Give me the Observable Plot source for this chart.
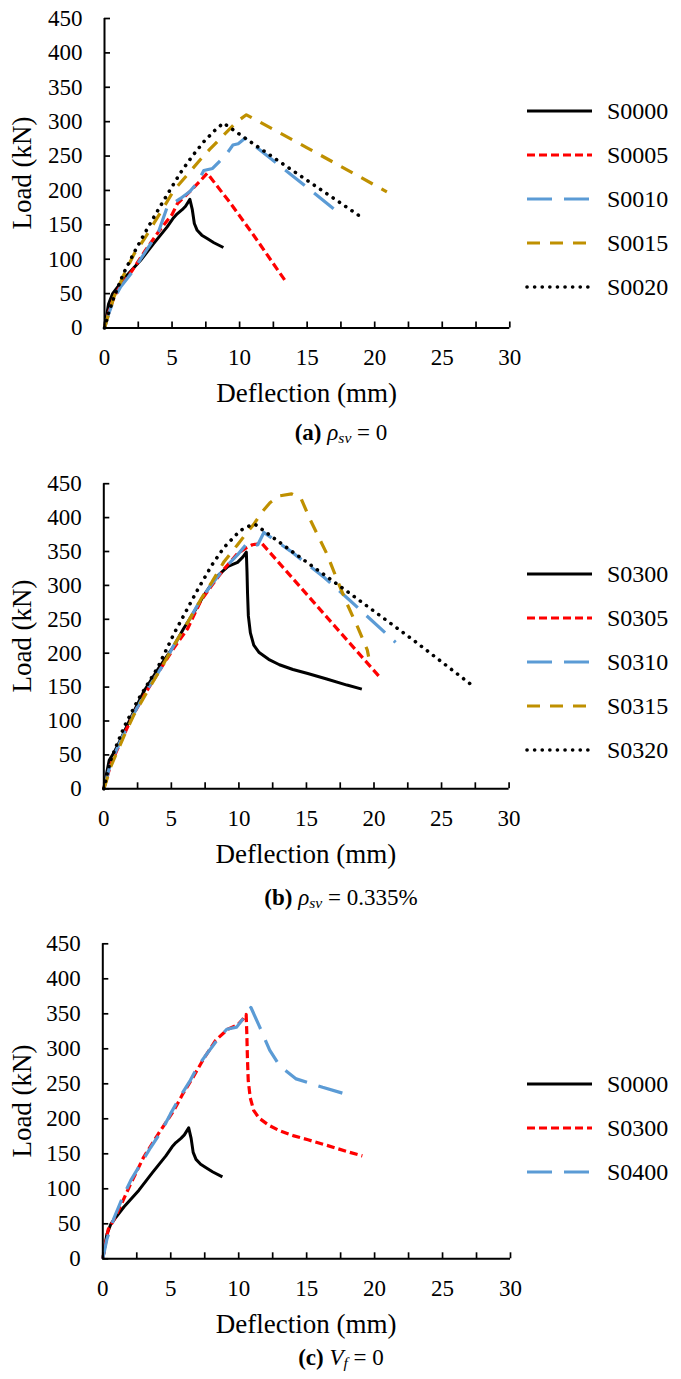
<!DOCTYPE html>
<html><head><meta charset="utf-8">
<script src="https://cdn.jsdelivr.net/npm/d3@7"></script>
<script src="https://cdn.jsdelivr.net/npm/@observablehq/plot@0.6"></script>
<style>
body{margin:0;background:#fff;}
#page{position:relative;width:681px;height:1379px;overflow:hidden;font-family:"Liberation Serif";color:#000;background:#fff;}
.plotbox{position:absolute;left:0;}
.title{position:absolute;font-family:"Liberation Serif";font-size:27px;white-space:nowrap;transform:translate(-50%,-50%);line-height:1;}
.ytitle{transform:translate(-50%,-50%) rotate(-90deg);}
.caption{position:absolute;font-family:"Liberation Serif";font-size:23px;white-space:nowrap;transform:translate(-50%,-50%);line-height:1;}
.caption sub{font-size:0.68em;vertical-align:-0.2em;}
#overlay{position:absolute;left:0;top:0;}
</style></head><body><div id="page"></div>
<script>
// ---- data (deflection in mm, load in kN) ----
const xTickValues = [0, 2.5, 5, 7.5, 10, 12.5, 15, 17.5, 20, 22.5, 25, 27.5, 30];
const xLabelValues = [0, 5, 10, 15, 20, 25, 30];
const yTickValues = [0, 50, 100, 150, 200, 250, 300, 350, 400, 450];

const S0000_x = [0, 0.3, 0.6, 0.95, 1.55, 2.66, 3.65, 4.64, 5.1, 5.38, 5.75, 6.0, 6.32, 6.5, 6.65, 6.86, 7.2, 7.6, 8.1, 8.8];
const S0000_y = [0, 35, 50, 59, 74, 98, 123, 147, 160, 166, 172, 177, 187, 172, 152, 142, 135, 130, 124, 117];

const S0005_x = [0, 0.3, 0.7, 1.2, 2.0, 3.0, 4.0, 5.0, 5.4, 6.4, 7.0, 7.6, 9.3, 11.0, 13.4];
const S0005_y = [0, 22, 45, 62, 82, 112, 140, 165, 181, 200, 212, 225, 182, 136, 68];

const S0010_x = [0, 0.3, 0.7, 1.2, 2.0, 3.0, 4.0, 4.64, 5.6, 6.3, 6.9, 7.35, 8.0, 8.5, 9.0, 9.5, 9.9, 10.4, 12.0, 14.0, 17.3];
const S0010_y = [0, 20, 42, 60, 80, 110, 140, 176, 188, 198, 212, 229, 232, 242, 252, 266, 268, 276, 251, 220, 168];

const S0015_x = [0, 0.3, 0.7, 1.4, 2.2, 2.9, 3.65, 4.4, 5.13, 6.4, 7.1, 7.8, 8.4, 9.2, 9.8, 10.5, 15.0, 20.9];
const S0015_y = [0, 20, 45, 76, 108, 128, 152, 176, 200, 229, 245, 260, 272, 288, 300, 310, 262, 198];

const S0020_x = [0, 0.3, 0.7, 1.4, 2.2, 2.9, 3.65, 4.4, 5.6, 6.5, 7.4, 8.2, 8.8, 11.3, 15.5, 19.1];
const S0020_y = [0, 22, 45, 79, 110, 135, 161, 186, 225, 250, 272, 288, 298, 264, 208, 160];

const S0300_x = [0, 0.2, 0.4, 0.8, 1.3, 2.0, 3.0, 4.1, 5.2, 5.9, 6.6, 7.4, 8.3, 9.2, 9.9, 10.3, 10.55, 10.6, 10.64, 10.7, 10.85, 11.1, 11.5, 12.2, 13.0, 14.0, 15.1, 16.5, 18.0, 19.1];
const S0300_y = [0, 22, 42, 55, 75, 105, 145, 179, 211, 236, 258, 285, 312, 328, 334, 342, 349, 320, 288, 255, 230, 212, 201, 191, 183, 176, 170, 162, 153, 147];

const S0305_x = [0, 0.2, 0.5, 1.0, 1.5, 2.2, 3.2, 4.3, 5.2, 6.2, 7.2, 8.0, 8.9, 9.9, 10.6, 11.0, 11.7, 14.0, 17.0, 20.5];
const S0305_y = [0, 14, 35, 58, 80, 110, 145, 180, 208, 236, 278, 300, 324, 347, 356, 360, 362, 310, 242, 163];

const S0310_x = [0, 0.2, 0.5, 1.0, 1.5, 2.2, 3.2, 4.3, 5.2, 6.2, 7.2, 8.0, 8.9, 9.9, 10.6, 11.1, 11.4, 11.85, 13.8, 16.3, 18.1, 21.6];
const S0310_y = [0, 15, 37, 60, 82, 110, 146, 180, 212, 245, 280, 302, 325, 345, 362, 358, 360, 378, 351, 312, 280, 216];

const S0315_x = [0, 0.2, 0.5, 1.0, 1.5, 2.2, 3.2, 4.3, 5.2, 6.2, 7.2, 8.0, 8.9, 9.9, 10.6, 11.1, 11.7, 12.3, 13.0, 13.9, 14.6, 15.3, 16.5, 17.4, 18.0, 18.8, 19.5, 19.6];
const S0315_y = [0, 12, 32, 55, 78, 108, 143, 180, 212, 245, 280, 305, 335, 360, 378, 390, 408, 422, 432, 435, 428, 396, 347, 302, 273, 238, 205, 195];

const S0320_x = [0, 0.2, 0.5, 1.0, 1.5, 2.5, 4.0, 5.2, 6.9, 8.0, 8.9, 10.1, 10.8, 11.2, 13.8, 18.3, 23.0, 27.3];
const S0320_y = [0, 18, 42, 67, 91, 130, 179, 229, 292, 330, 356, 381, 388, 390, 352, 287, 218, 152];

const S0400_x = [0, 0.3, 0.84, 1.4, 2.06, 2.8, 3.52, 4.3, 4.98, 5.7, 6.44, 7.0, 7.66, 8.4, 9.12, 9.85, 10.4, 10.9, 11.55, 12.28, 13.0, 14.23, 16.17, 17.75];
const S0400_y = [0, 28, 59, 85, 112, 136, 159, 182, 207, 232, 255, 275, 293, 312, 328, 331, 345, 359, 331, 298, 276, 257, 245, 236];

// ---- styles ----
const FONT = "Liberation Serif";
const ST = {
  solid: {stroke: "#000000", dash: null, width: 3, cap: "butt"},
  red:   {stroke: "#FF0000", dash: "8,4", width: 3.2, cap: "butt"},
  blue:  {stroke: "#5B9BD5", dash: "25,12", width: 3.2, cap: "butt"},
  gold:  {stroke: "#BF9000", dash: "13,10", width: 3.2, cap: "butt"},
  dot:   {stroke: "#000000", dash: "0.1,7.5", width: 3.6, cap: "round"}
};

const panels = [
  {top: 0, height: 388, mt: 18, mb: 60.5, ml: 104, right: 509.3, legendY: 111,
   captionY: 433, caption: '<b>(a)</b> <i>ρ<sub>sv</sub></i> = 0',
   series: [["S0000", S0000_x, S0000_y, "solid"], ["S0005", S0005_x, S0005_y, "red"], ["S0010", S0010_x, S0010_y, "blue"], ["S0015", S0015_x, S0015_y, "gold"], ["S0020", S0020_x, S0020_y, "dot"]]},
  {top: 460, height: 388.3, mt: 23.2, mb: 60, ml: 103.3, right: 508.6, legendY: 574,
   captionY: 898, caption: '<b>(b)</b> <i>ρ<sub>sv</sub></i> = 0.335%',
   series: [["S0300", S0300_x, S0300_y, "solid"], ["S0305", S0305_x, S0305_y, "red"], ["S0310", S0310_x, S0310_y, "blue"], ["S0315", S0315_x, S0315_y, "gold"], ["S0320", S0320_x, S0320_y, "dot"]]},
  {top: 920, height: 398.3, mt: 23.3, mb: 60, ml: 102.3, right: 510, legendY: 1084,
   captionY: 1358, caption: '<b>(c)</b> <i>V<sub>f</sub></i> = 0',
   series: [["S0000", S0000_x, S0000_y, "solid"], ["S0300", S0300_x, S0300_y, "red"], ["S0400", S0400_x, S0400_y, "blue"]]}
];

const page = document.getElementById("page");
const W = 681;
const overlay = d3.create("svg").attr("id", "overlay").attr("width", W).attr("height", 1379)
  .attr("font-family", FONT).style("font-family", FONT);

for (const p of panels) {
  const marks = [];
  for (const [name, xs, ys, st] of p.series) {
    const s = ST[st];
    const data = xs.map((x, i) => ({x, load: ys[i]}));
    marks.push(Plot.line(data, {x: "x", y: "load", stroke: s.stroke, strokeWidth: s.width,
      strokeDasharray: s.dash, strokeLinecap: s.cap, strokeLinejoin: "round"}));
  }
  marks.push(Plot.ruleX([0], {stroke: "#000", strokeWidth: 2}));
  marks.push(Plot.ruleY([0], {stroke: "#000", strokeWidth: 2}));
  marks.push(Plot.axisX({ticks: xTickValues, tickSize: 6, dy: -6, tickFormat: () => "", label: null, strokeWidth: 1.7}));
  marks.push(Plot.axisY({ticks: yTickValues, tickSize: 6, dx: 6, tickFormat: () => "", label: null, strokeWidth: 1.7}));
  marks.push(Plot.axisX({ticks: xLabelValues, tickSize: 0, tickPadding: 21, fontSize: 23, fontFamily: FONT, label: null}));
  marks.push(Plot.axisY({ticks: yTickValues, tickSize: 0, tickPadding: 22, fontSize: 23, fontFamily: FONT, label: null}));

  const chart = Plot.plot({
    width: W, height: p.height,
    marginTop: p.mt, marginBottom: p.mb, marginLeft: p.ml, marginRight: W - p.right,
    x: {domain: [0, 30]}, y: {domain: [0, 450]},
    style: {fontFamily: FONT, fontSize: "23px", color: "#000", background: "transparent"},
    marks
  });
  chart.setAttribute("font-family", FONT);
  const box = document.createElement("div");
  box.className = "plotbox";
  box.style.top = p.top + "px";
  box.appendChild(chart);
  page.appendChild(box);

  const frameTop = p.top + p.mt, frameBottom = p.top + p.height - p.mb;
  const yt = document.createElement("div");
  yt.className = "title ytitle";
  yt.style.left = "22px"; yt.style.top = ((frameTop + frameBottom) / 2) + "px";
  yt.textContent = "Load (kN)";
  page.appendChild(yt);
  const xt = document.createElement("div");
  xt.className = "title";
  xt.style.left = ((p.ml + p.right) / 2) + "px"; xt.style.top = (frameBottom + 65.5) + "px";
  xt.textContent = "Deflection (mm)";
  page.appendChild(xt);
  const cap = document.createElement("div");
  cap.className = "caption";
  cap.style.left = "341px"; cap.style.top = p.captionY + "px";
  cap.innerHTML = p.caption;
  page.appendChild(cap);

  p.series.forEach(([name, xs, ys, st], i) => {
    const s = ST[st];
    const y = p.legendY + i * 44;
    overlay.append("line").attr("x1", 527).attr("x2", 592).attr("y1", y).attr("y2", y)
      .attr("stroke", s.stroke).attr("stroke-width", s.width)
      .attr("stroke-dasharray", s.dash).attr("stroke-linecap", s.cap);
    overlay.append("text").attr("x", 607).attr("y", y).attr("dy", "0.35em")
      .attr("font-size", 24).attr("fill", "#000").text(name);
  });
}
page.appendChild(overlay.node());
</script></body></html>
